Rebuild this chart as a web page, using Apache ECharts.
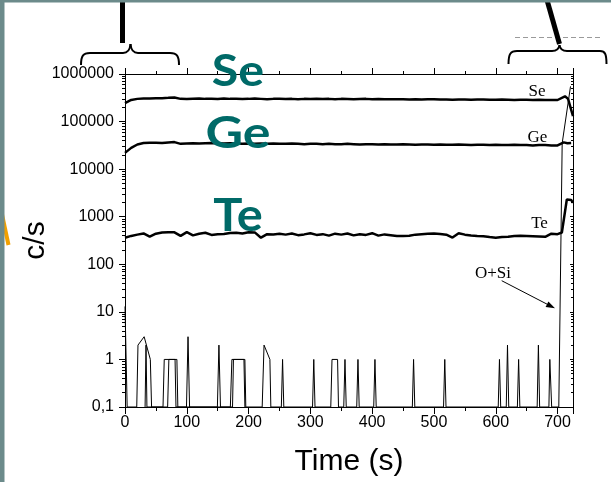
<!DOCTYPE html>
<html><head><meta charset="utf-8">
<script src="https://cdn.jsdelivr.net/npm/echarts@6/dist/echarts.min.js"></script>
<style>html,body{margin:0;padding:0;background:#fff}#c{width:611px;height:482px}</style>
</head><body><div id="c"></div>
<script>
// ---- data ----
const times = [0,10,20,30,40,50,60,70,80,90,100,110,120,130,140,150,160,170,180,190,200,210,220,230,240,250,260,270,280,290,300,310,320,330,340,350,360,370,380,390,400,410,420,430,440,450,460,470,480,490,500,510,520,530,540,550,560,570,580,590,600,610,620,630,640,650,660,670,680,690,700];
const seValues = [245000,285000,300000,305000,305000,310000,310000,315000,322000,300000,298000,302000,305000,300000,303000,298000,305000,300000,302000,298000,300000,304000,300000,296000,300000,302000,298000,300000,296000,300000,298000,302000,298000,300000,296000,300000,298000,294000,298000,300000,296000,298000,294000,296000,293000,296000,292000,295000,290000,293000,296000,290000,292000,288000,292000,290000,286000,290000,292000,288000,286000,290000,288000,284000,288000,286000,284000,287000,285000,283000,284000];
const geValues = [22000,28000,33000,35500,36000,36000,35500,36500,37000,34000,34500,35000,34500,35000,35500,35000,34500,35000,34500,34000,34500,34000,34500,34000,34500,34000,34000,34500,34000,33500,34000,34000,33500,34000,33500,33500,34000,33500,33000,33500,33500,33000,33500,33000,33000,33500,33000,32500,33000,33000,32500,33000,32500,32500,33000,32500,32000,32500,32500,32000,32500,32000,32000,32500,32000,32000,31500,32000,32000,31500,31500];
const teValues = [362,395,420,445,380,440,465,474,470,395,474,405,440,460,415,430,432,455,462,445,472,468,362,430,425,440,420,445,410,425,450,415,430,400,440,420,445,405,430,415,450,400,425,410,395,395,400,420,430,440,445,435,420,365,450,420,405,395,390,375,362,375,380,395,400,395,390,385,378,440,430];
const seEndTimes = [712,717,725];
const seEndValues = [340000,300000,130000];
const geEndTimes = [710,716,722];
const geEndValues = [36500,35000,35500];
const teEndTimes = [707,715,722,725];
const teEndValues = [465,2300,2250,1950];
// O+Si counts (two overlapping traces)
const osiTimesA = [0,3.5,19,21,31,41,43,61.5,63.5,84,85.5,99.5,102,104.5,149.5,152,154.5,170.5,173,194,195.5,222,225,234.5,236,253,255,257,303.5,305.5,307.5,333,335,344,345.5,354,356,358,375,377,379,402.5,404.5,406.5,465,467,469,515.5,517.5,519.5,604,606,608,617,619,621,635,637,639,667,669,671,686,687.5,689,690.5,702,707.5,721];
const osiValuesA = [13,0.1,0.1,2,3,1,0.1,0.1,1,1,0.1,0.1,3,0.1,0.1,2,0.1,0.1,1,1,0.1,0.1,2,1,0.1,0.1,1,0.1,0.1,1,0.1,0.1,1,1,0.1,0.1,1,0.1,0.1,1,0.1,0.1,1,0.1,0.1,1,0.1,0.1,1,0.1,0.1,1,0.1,0.1,2,0.1,0.1,1,0.1,0.1,2,0.1,0.1,1,1,0.1,0.1,35000,550000];
const osiTimesB = [32.5,34,35.5,69,71,81,82.5,174,175.5,192.5,194];
const osiValuesB = [0.1,2,0.1,0.1,1,1,0.1,0.1,1,1,0.1];
const xTicks = {min:0, max:725, interval:100};
const yTicks = {min:0.1, max:1000000};

// ---- build ----
const pairs = (ts, vs) => ts.map((t, i) => [t, vs[i]]);
const seData = pairs(times, seValues).concat(pairs(seEndTimes, seEndValues));
const geData = pairs(times, geValues).concat(pairs(geEndTimes, geEndValues));
const teData = pairs(times, teValues).concat(pairs(teEndTimes, teEndValues));
const osiA = pairs(osiTimesA, osiValuesA);
const osiB = pairs(osiTimesB, osiValuesB);

const SANS = 'Liberation Sans, Arial, sans-serif';
const SERIF = 'Liberation Serif, Times New Roman, serif';
const TEAL = '#006a68';
const fmt = v => String(+Number(v).toPrecision(6)).replace('.', ',');

const chart = echarts.init(document.getElementById('c'), null, {renderer:'canvas'});
const thick = {color:'#000', width:2.5};
const thin = {color:'#000', width:1};
const lineSeries = (name, data, style) => ({
  name, type:'line', data, symbol:'none', showSymbol:false, lineStyle:style,
  xAxisIndex:0, yAxisIndex:0, animation:false, silent:true, z:3
});
const bigText = (txt, x, y, size, sx) => ({type:'text', z:60, x, y, scaleX:sx,
  style:{text:txt, fill:TEAL, font:'bold ' + size + 'px Lato, sans-serif', align:'center', verticalAlign:'top'}});
const smallText = (txt, x, y) => ({type:'text', z:60, x, y,
  style:{text:txt, fill:'#000', font:'17px ' + SERIF, align:'center', verticalAlign:'top'}});

chart.setOption({
  animation:false,
  backgroundColor:'#fff',
  grid:{left:125, right:38, top:74, bottom:74, containLabel:false},
  xAxis:[{
    type:'value', position:'bottom', min:xTicks.min, max:xTicks.max, interval:xTicks.interval,
    axisLine:{show:true, onZero:false, lineStyle:{color:'#000', width:1}},
    axisTick:{show:true, inside:false, length:7, lineStyle:{color:'#000'}},
    minorTick:{show:true, splitNumber:2, length:4, lineStyle:{color:'#000'}},
    splitLine:{show:false},
    axisLabel:{color:'#000', fontSize:16, fontFamily:SANS, margin:8, showMaxLabel:false},
    name:'Time (s)', nameLocation:'middle', nameGap:40, nameMoveOverlap:false,
    nameTextStyle:{color:'#000', fontSize:30, fontFamily:SANS}
  },{
    type:'value', position:'top', min:xTicks.min, max:xTicks.max, interval:xTicks.interval,
    axisLine:{show:true, onZero:false, lineStyle:{color:'#000', width:1}},
    axisTick:{show:true, inside:false, length:6, lineStyle:{color:'#000'}},
    minorTick:{show:true, splitNumber:2, length:3, lineStyle:{color:'#000'}},
    splitLine:{show:false}, axisLabel:{show:false}
  }],
  yAxis:[{
    type:'log', logBase:10, position:'left', min:yTicks.min, max:yTicks.max, interval:1,
    axisLine:{show:true, onZero:false, lineStyle:{color:'#000', width:1}},
    axisTick:{show:true, inside:false, length:6, lineStyle:{color:'#000'}},
    minorTick:{show:true, splitNumber:9, length:3, lineStyle:{color:'#000'}},
    splitLine:{show:false},
    axisLabel:{color:'#000', fontSize:16, fontFamily:SANS, margin:11, formatter:fmt},
    name:'c/s', nameLocation:'middle', nameGap:74, nameRotate:90, nameMoveOverlap:false,
    nameTextStyle:{color:'#000', fontSize:30, fontFamily:SANS}
  },{
    type:'log', logBase:10, position:'right', min:yTicks.min, max:yTicks.max, interval:1,
    axisLine:{show:true, onZero:false, lineStyle:{color:'#000', width:1}},
    axisTick:{show:true, inside:true, length:3, lineStyle:{color:'#000'}},
    minorTick:{show:true, splitNumber:9, length:2, lineStyle:{color:'#000'}},
    splitLine:{show:false}, axisLabel:{show:false}
  }],
  series:[
    lineSeries('O', osiA, thin),
    lineSeries('Si', osiB, thin),
    lineSeries('Se', seData, thick),
    lineSeries('Ge', geData, thick),
    lineSeries('Te', teData, thick)
  ],
  graphic:[
    // slide decorations
    {type:'line', z:50, shape:{x1:0, y1:205, x2:8.5, y2:245}, style:{stroke:'#f2a100', lineWidth:4}},
    {type:'rect', z:51, shape:{x:0, y:0, width:611, height:2.5}, style:{fill:'#6c8b8b'}},
    {type:'rect', z:51, shape:{x:0, y:0, width:4.5, height:482}, style:{fill:'#6c8b8b'}},
    {type:'rect', z:50, shape:{x:120, y:2, width:5, height:41}, style:{fill:'#000'}},
    {type:'line', z:50, shape:{x1:547, y1:0, x2:559.5, y2:44}, style:{stroke:'#000', lineWidth:5}},
    {type:'line', z:49, shape:{x1:515, y1:37.5, x2:600, y2:37.5}, style:{stroke:'#9a9a9a', lineWidth:1, lineDash:[5,3]}},
    // left brace
    {type:'bezierCurve', z:50, shape:{x1:81, y1:65, cpx1:81, cpy1:56, cpx2:83, cpy2:53, x2:90, y2:53}, style:{stroke:'#000', lineWidth:2, fill:null}},
    {type:'line', z:50, shape:{x1:90, y1:53, x2:123, y2:53}, style:{stroke:'#000', lineWidth:2}},
    {type:'bezierCurve', z:50, shape:{x1:123, y1:53, cpx1:128, cpy1:53, cpx2:130, cpy2:50, x2:130.5, y2:44}, style:{stroke:'#000', lineWidth:2, fill:null}},
    {type:'bezierCurve', z:50, shape:{x1:130.5, y1:44, cpx1:131, cpy1:50, cpx2:133, cpy2:53, x2:138, y2:53}, style:{stroke:'#000', lineWidth:2, fill:null}},
    {type:'line', z:50, shape:{x1:138, y1:53, x2:170, y2:53}, style:{stroke:'#000', lineWidth:2}},
    {type:'bezierCurve', z:50, shape:{x1:170, y1:53, cpx1:177, cpy1:53, cpx2:179, cpy2:56, x2:179, y2:65}, style:{stroke:'#000', lineWidth:2, fill:null}},
    // right brace
    {type:'bezierCurve', z:50, shape:{x1:508.5, y1:64, cpx1:508.5, cpy1:54, cpx2:510.5, cpy2:51, x2:517, y2:51}, style:{stroke:'#000', lineWidth:2, fill:null}},
    {type:'line', z:50, shape:{x1:517, y1:51, x2:552, y2:51}, style:{stroke:'#000', lineWidth:2}},
    {type:'bezierCurve', z:50, shape:{x1:552, y1:51, cpx1:557, cpy1:51, cpx2:559, cpy2:49, x2:559.5, y2:45}, style:{stroke:'#000', lineWidth:2, fill:null}},
    {type:'bezierCurve', z:50, shape:{x1:559.5, y1:45, cpx1:560, cpy1:49, cpx2:562, cpy2:51, x2:567, y2:51}, style:{stroke:'#000', lineWidth:2, fill:null}},
    {type:'line', z:50, shape:{x1:567, y1:51, x2:600, y2:51}, style:{stroke:'#000', lineWidth:2}},
    {type:'bezierCurve', z:50, shape:{x1:600, y1:51, cpx1:605, cpy1:51, cpx2:606.5, cpy2:54, x2:606.5, y2:64}, style:{stroke:'#000', lineWidth:2, fill:null}},
    // big element labels
    bigText('Se', 238, 50, 44, 1.1),
    bigText('Ge', 238, 112, 44, 1.18),
    bigText('Te', 238, 193, 46, 1.06),
    // small serif labels
    smallText('Se', 537, 83.5),
    smallText('Ge', 537.5, 129.5),
    smallText('Te', 539.5, 215.5),
    smallText('O+Si', 493, 265.5),
    // arrow
    {type:'line', z:60, shape:{x1:501.7, y1:280.7, x2:550, y2:305.7}, style:{stroke:'#000', lineWidth:1}},
    {type:'polygon', z:60, shape:{points:[[555,308.3],[548.4,301.5],[545.6,306.9]]}, style:{fill:'#000'}}
  ]
});
</script>
</body></html>
